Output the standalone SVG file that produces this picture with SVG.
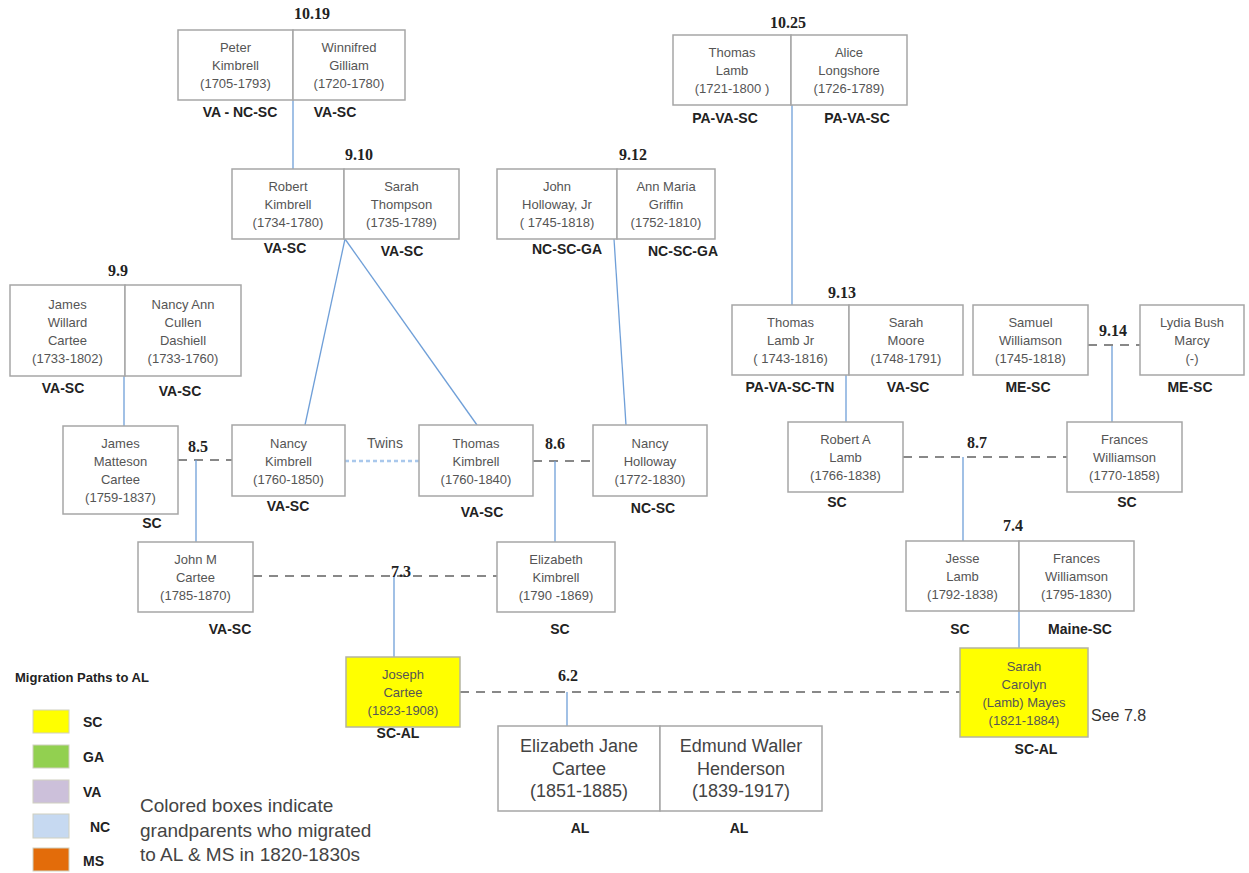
<svg xmlns="http://www.w3.org/2000/svg" width="1249" height="873" viewBox="0 0 1249 873">
<style>
.box{fill:#fff;stroke:#a6a6a6;stroke-width:1.5}
.yel{fill:#ffff00;stroke:#b4b4a0;stroke-width:1.5}
.nt{font-family:"Liberation Sans",Arial,sans-serif;font-size:13px;fill:#555;text-anchor:middle}
.big{font-size:18px;fill:#444}
.st{font-family:"Liberation Sans",Arial,sans-serif;font-weight:bold;font-size:14px;fill:#222;text-anchor:middle}
.ttl{font-family:"Liberation Serif","Times New Roman",serif;font-weight:bold;font-size:16px;fill:#222;text-anchor:middle}
.ln{stroke:#6f9fd8;stroke-width:1.3;fill:none}
.ds{stroke:#888;stroke-width:2;stroke-dasharray:9,7;fill:none}
.tw{stroke:#a9c8ec;stroke-width:2.5;stroke-dasharray:4,3;fill:none}
.lg{font-family:"Liberation Sans",Arial,sans-serif;fill:#222}
</style>
<rect width="1249" height="873" fill="#fff"/>
<g id="connectors">
<line class="ln" x1="293" y1="100" x2="293" y2="169"/>
<line class="ln" x1="345" y1="239" x2="305" y2="425"/>
<line class="ln" x1="345" y1="239" x2="477" y2="425"/>
<line class="ln" x1="614" y1="239" x2="626" y2="425"/>
<line class="ln" x1="792" y1="105" x2="792" y2="305"/>
<line class="ln" x1="124" y1="376" x2="124" y2="426"/>
<line class="ln" x1="846" y1="375" x2="846" y2="422"/>
<line class="ln" x1="1112" y1="345" x2="1112" y2="422"/>
<line class="ds" x1="178" y1="460" x2="232" y2="460"/>
<line class="ln" x1="196" y1="460" x2="196" y2="542"/>
<line class="tw" x1="345" y1="461" x2="419" y2="461"/>
<line class="ds" x1="533" y1="461" x2="593" y2="461"/>
<line class="ln" x1="555" y1="461" x2="555" y2="542"/>
<line class="ds" x1="1088" y1="345" x2="1140" y2="345"/>
<line class="ds" x1="903" y1="457" x2="1067" y2="457"/>
<line class="ln" x1="963" y1="457" x2="963" y2="541"/>
<line class="ds" x1="253" y1="576" x2="497" y2="576"/>
<line class="ln" x1="394" y1="576" x2="394" y2="657"/>
<line class="ln" x1="1019" y1="611" x2="1019" y2="648"/>
<line class="ds" x1="460" y1="692" x2="960" y2="692"/>
<line class="ln" x1="567" y1="692" x2="567" y2="726"/>
</g>
<g id="titles">
<text class="ttl" x="312" y="19">10.19</text>
<text class="ttl" x="359" y="160">9.10</text>
<text class="ttl" x="633" y="160">9.12</text>
<text class="ttl" x="788" y="28">10.25</text>
<text class="ttl" x="118" y="276">9.9</text>
<text class="ttl" x="842" y="298">9.13</text>
<text class="ttl" x="1113" y="336">9.14</text>
<text class="ttl" x="198" y="452">8.5</text>
<text class="ttl" x="555" y="449">8.6</text>
<text class="ttl" x="977" y="448">8.7</text>
<text class="ttl" x="401" y="577">7.3</text>
<text class="ttl" x="1013" y="531">7.4</text>
<text class="ttl" x="568" y="681">6.2</text>
<text class="nt" x="385" y="448" style="font-size:14px">Twins</text>
</g>
<g id="n-peter-kimbrell">
<rect class="box" x="178" y="30" width="115" height="70"/>
<text class="nt" x="235.5" y="52">Peter</text><text class="nt" x="235.5" y="70">Kimbrell</text><text class="nt" x="235.5" y="88">(1705-1793)</text>
<text class="st" x="240" y="117">VA - NC-SC</text>
</g>
<g id="n-winnifred-gilliam">
<rect class="box" x="293" y="30" width="112" height="70"/>
<text class="nt" x="349" y="52">Winnifred</text><text class="nt" x="349" y="70">Gilliam</text><text class="nt" x="349" y="88">(1720-1780)</text>
<text class="st" x="335" y="117">VA-SC</text>
</g>
<g id="n-robert-kimbrell">
<rect class="box" x="232" y="169" width="112" height="70"/>
<text class="nt" x="288" y="191">Robert</text><text class="nt" x="288" y="209">Kimbrell</text><text class="nt" x="288" y="227">(1734-1780)</text>
<text class="st" x="285" y="253">VA-SC</text>
</g>
<g id="n-sarah-thompson">
<rect class="box" x="344" y="169" width="115" height="70"/>
<text class="nt" x="401.5" y="191">Sarah</text><text class="nt" x="401.5" y="209">Thompson</text><text class="nt" x="401.5" y="227">(1735-1789)</text>
<text class="st" x="402" y="256">VA-SC</text>
</g>
<g id="n-john-holloway">
<rect class="box" x="497" y="169" width="120" height="70"/>
<text class="nt" x="557" y="191">John</text><text class="nt" x="557" y="209">Holloway, Jr</text><text class="nt" x="557" y="227">( 1745-1818)</text>
<text class="st" x="567" y="254">NC-SC-GA</text>
</g>
<g id="n-ann-maria-griffin">
<rect class="box" x="617" y="169" width="98" height="70"/>
<text class="nt" x="666" y="191">Ann Maria</text><text class="nt" x="666" y="209">Griffin</text><text class="nt" x="666" y="227">(1752-1810)</text>
<text class="st" x="683" y="256">NC-SC-GA</text>
</g>
<g id="n-thomas-lamb">
<rect class="box" x="673" y="35" width="118" height="70"/>
<text class="nt" x="732" y="57">Thomas</text><text class="nt" x="732" y="75">Lamb</text><text class="nt" x="732" y="93">(1721-1800 )</text>
<text class="st" x="725" y="123">PA-VA-SC</text>
</g>
<g id="n-alice-longshore">
<rect class="box" x="791" y="35" width="116" height="70"/>
<text class="nt" x="849" y="57">Alice</text><text class="nt" x="849" y="75">Longshore</text><text class="nt" x="849" y="93">(1726-1789)</text>
<text class="st" x="857" y="123">PA-VA-SC</text>
</g>
<g id="n-james-willard-cartee">
<rect class="box" x="10" y="285" width="115" height="91"/>
<text class="nt" x="67.5" y="308.5">James</text><text class="nt" x="67.5" y="326.5">Willard</text><text class="nt" x="67.5" y="344.5">Cartee</text><text class="nt" x="67.5" y="362.5">(1733-1802)</text>
<text class="st" x="63" y="393">VA-SC</text>
</g>
<g id="n-nancy-ann-cullen-dashiell">
<rect class="box" x="125" y="285" width="116" height="91"/>
<text class="nt" x="183" y="308.5">Nancy Ann</text><text class="nt" x="183" y="326.5">Cullen</text><text class="nt" x="183" y="344.5">Dashiell</text><text class="nt" x="183" y="362.5">(1733-1760)</text>
<text class="st" x="180" y="396">VA-SC</text>
</g>
<g id="n-james-matteson-cartee">
<rect class="box" x="63" y="426" width="115" height="88"/>
<text class="nt" x="120.5" y="448">James</text><text class="nt" x="120.5" y="466">Matteson</text><text class="nt" x="120.5" y="484">Cartee</text><text class="nt" x="120.5" y="502">(1759-1837)</text>
<text class="st" x="152" y="528">SC</text>
</g>
<g id="n-nancy-kimbrell">
<rect class="box" x="232" y="425" width="113" height="71"/>
<text class="nt" x="288.5" y="447.5">Nancy</text><text class="nt" x="288.5" y="465.5">Kimbrell</text><text class="nt" x="288.5" y="483.5">(1760-1850)</text>
<text class="st" x="288" y="511">VA-SC</text>
</g>
<g id="n-thomas-kimbrell">
<rect class="box" x="419" y="425" width="114" height="71"/>
<text class="nt" x="476" y="447.5">Thomas</text><text class="nt" x="476" y="465.5">Kimbrell</text><text class="nt" x="476" y="483.5">(1760-1840)</text>
<text class="st" x="482" y="517">VA-SC</text>
</g>
<g id="n-nancy-holloway">
<rect class="box" x="593" y="425" width="114" height="71"/>
<text class="nt" x="650" y="447.5">Nancy</text><text class="nt" x="650" y="465.5">Holloway</text><text class="nt" x="650" y="483.5">(1772-1830)</text>
<text class="st" x="653" y="513">NC-SC</text>
</g>
<g id="n-thomas-lamb-jr">
<rect class="box" x="732" y="305" width="117" height="70"/>
<text class="nt" x="790.5" y="327">Thomas</text><text class="nt" x="790.5" y="345">Lamb Jr</text><text class="nt" x="790.5" y="363">( 1743-1816)</text>
<text class="st" x="790" y="392">PA-VA-SC-TN</text>
</g>
<g id="n-sarah-moore">
<rect class="box" x="849" y="305" width="114" height="70"/>
<text class="nt" x="906" y="327">Sarah</text><text class="nt" x="906" y="345">Moore</text><text class="nt" x="906" y="363">(1748-1791)</text>
<text class="st" x="908" y="392">VA-SC</text>
</g>
<g id="n-samuel-williamson">
<rect class="box" x="973" y="305" width="115" height="70"/>
<text class="nt" x="1030.5" y="327">Samuel</text><text class="nt" x="1030.5" y="345">Williamson</text><text class="nt" x="1030.5" y="363">(1745-1818)</text>
<text class="st" x="1028" y="392">ME-SC</text>
</g>
<g id="n-lydia-bush-marcy">
<rect class="box" x="1140" y="305" width="104" height="70"/>
<text class="nt" x="1192" y="327">Lydia Bush</text><text class="nt" x="1192" y="345">Marcy</text><text class="nt" x="1192" y="363">(-)</text>
<text class="st" x="1190" y="392">ME-SC</text>
</g>
<g id="n-robert-a-lamb">
<rect class="box" x="788" y="422" width="115" height="70"/>
<text class="nt" x="845.5" y="444">Robert A</text><text class="nt" x="845.5" y="462">Lamb</text><text class="nt" x="845.5" y="480">(1766-1838)</text>
<text class="st" x="837" y="507">SC</text>
</g>
<g id="n-frances-williamson-1770">
<rect class="box" x="1067" y="422" width="115" height="70"/>
<text class="nt" x="1124.5" y="444">Frances</text><text class="nt" x="1124.5" y="462">Williamson</text><text class="nt" x="1124.5" y="480">(1770-1858)</text>
<text class="st" x="1127" y="507">SC</text>
</g>
<g id="n-john-m-cartee">
<rect class="box" x="138" y="542" width="115" height="70"/>
<text class="nt" x="195.5" y="564">John  M</text><text class="nt" x="195.5" y="582">Cartee</text><text class="nt" x="195.5" y="600">(1785-1870)</text>
<text class="st" x="230" y="634">VA-SC</text>
</g>
<g id="n-elizabeth-kimbrell">
<rect class="box" x="497" y="542" width="118" height="70"/>
<text class="nt" x="556" y="564">Elizabeth</text><text class="nt" x="556" y="582">Kimbrell</text><text class="nt" x="556" y="600">(1790 -1869)</text>
<text class="st" x="560" y="634">SC</text>
</g>
<g id="n-jesse-lamb">
<rect class="box" x="906" y="541" width="113" height="70"/>
<text class="nt" x="962.5" y="563">Jesse</text><text class="nt" x="962.5" y="581">Lamb</text><text class="nt" x="962.5" y="599">(1792-1838)</text>
<text class="st" x="960" y="634">SC</text>
</g>
<g id="n-frances-williamson-1795">
<rect class="box" x="1019" y="541" width="115" height="70"/>
<text class="nt" x="1076.5" y="563">Frances</text><text class="nt" x="1076.5" y="581">Williamson</text><text class="nt" x="1076.5" y="599">(1795-1830)</text>
<text class="st" x="1080" y="634">Maine-SC</text>
</g>
<g id="n-joseph-cartee">
<rect class="yel" x="346" y="657" width="114" height="70"/>
<text class="nt" x="403" y="679">Joseph</text><text class="nt" x="403" y="697">Cartee</text><text class="nt" x="403" y="715">(1823-1908)</text>
<text class="st" x="398" y="738">SC-AL</text>
</g>
<g id="n-sarah-carolyn-mayes">
<rect class="yel" x="960" y="648" width="128" height="89"/>
<text class="nt" x="1024" y="670.5">Sarah</text><text class="nt" x="1024" y="688.5">Carolyn</text><text class="nt" x="1024" y="706.5">(Lamb)  Mayes</text><text class="nt" x="1024" y="724.5">(1821-1884)</text>
<text class="st" x="1036" y="754">SC-AL</text>
<text class="lg" x="1091" y="721" style="font-size:16px;fill:#333">See 7.8</text>
</g>
<g id="n-elizabeth-jane-cartee">
<rect class="box" x="498" y="726" width="162" height="85"/>
<text class="nt big" x="579" y="752">Elizabeth Jane</text><text class="nt big" x="579" y="774.5">Cartee</text><text class="nt big" x="579" y="797">(1851-1885)</text>
<text class="st" x="580" y="833">AL</text>
</g>
<g id="n-edmund-waller-henderson">
<rect class="box" x="660" y="726" width="162" height="85"/>
<text class="nt big" x="741" y="752">Edmund Waller</text><text class="nt big" x="741" y="774.5">Henderson</text><text class="nt big" x="741" y="797">(1839-1917)</text>
<text class="st" x="739" y="833">AL</text>
</g>
<g id="legend">
<text class="lg" x="15" y="682" style="font-size:13px;font-weight:bold">Migration Paths to AL</text>
<rect x="33" y="710" width="36" height="23" fill="#ffff00" stroke="#d0d0c0"/>
<rect x="33" y="745" width="36" height="23" fill="#92d050" stroke="#d0d0c0"/>
<rect x="33" y="780" width="36" height="23" fill="#ccc0da" stroke="#d0d0c0"/>
<rect x="33" y="814" width="36" height="24" fill="#c6d9f1" stroke="#d0d0c0"/>
<rect x="33" y="848" width="36" height="23" fill="#e36c0a" stroke="#d0d0c0"/>
<text class="lg" x="83" y="727" style="font-size:14px;font-weight:bold">SC</text>
<text class="lg" x="83" y="762" style="font-size:14px;font-weight:bold">GA</text>
<text class="lg" x="83" y="797" style="font-size:14px;font-weight:bold">VA</text>
<text class="lg" x="90" y="832" style="font-size:14px;font-weight:bold">NC</text>
<text class="lg" x="83" y="866" style="font-size:14px;font-weight:bold">MS</text>
<text class="lg" x="140" y="812" style="font-size:19px;fill:#444">Colored boxes indicate</text>
<text class="lg" x="140" y="837" style="font-size:19px;fill:#444">grandparents who migrated</text>
<text class="lg" x="140" y="861" style="font-size:19px;fill:#444">to AL &amp; MS in 1820-1830s</text>
</g>
</svg>
